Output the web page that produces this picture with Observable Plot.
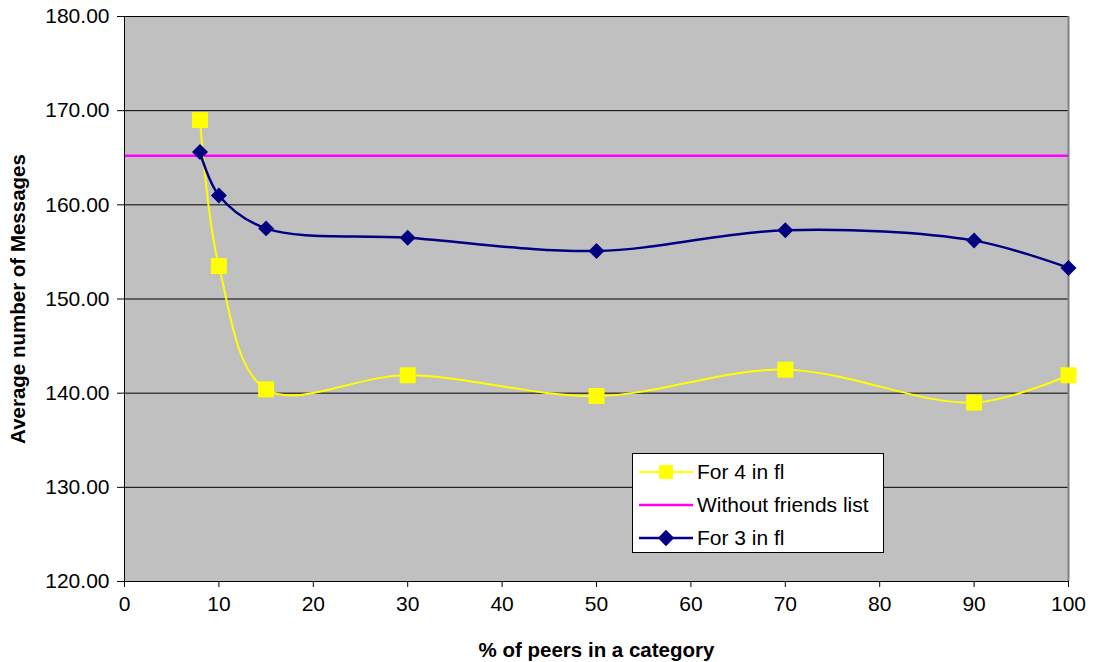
<!DOCTYPE html>
<html>
<head>
<meta charset="utf-8">
<script src="https://cdn.jsdelivr.net/npm/d3@7"></script>
<script src="https://cdn.jsdelivr.net/npm/@observablehq/plot@0.6"></script>
<style>
  body { margin: 0; background: #fff; font-family: "Liberation Sans", Arial, sans-serif; }
  #wrap { position: relative; width: 1094px; height: 662px; }
  #legend { position: absolute; left: 632px; top: 453px; width: 252px; height: 100px;
            box-sizing: border-box; border: 1px solid #000; background: #fff; }
  #legend svg { display: block; }
</style>
</head>
<body>
<div id="wrap"><div id="legend"></div></div>
<script>
// % of peers in a category
const peers = [8, 10, 15, 30, 50, 70, 90, 100];
// Average number of messages, 4 peers in friends list
const for4 = [169.0, 153.5, 140.4, 141.9, 139.7, 142.5, 139.0, 141.9];
// Average number of messages, 3 peers in friends list
const for3 = [165.6, 161.0, 157.5, 156.5, 155.1, 157.3, 156.2, 153.3];
// Reference level without a friends list
const withoutList = 165.2;
const xTicks = [0, 10, 20, 30, 40, 50, 60, 70, 80, 90, 100];
const yTicks = [120, 130, 140, 150, 160, 170, 180];

const seriesNames = ["For 4 in fl", "Without friends list", "For 3 in fl"];
const colors = { yellow: "#FFFF00", magenta: "#FF00FF", navy: "#000080" };

const rows4 = peers.map((p, i) => ({ x: p, y: for4[i] }));
const rows3 = peers.map((p, i) => ({ x: p, y: for3[i] }));

const font = '"Liberation Sans", Arial, sans-serif';

const chart = Plot.plot({
  width: 1094,
  height: 662,
  marginLeft: 124,
  marginRight: 26,
  marginTop: 16,
  marginBottom: 81,
  style: { fontFamily: font, background: "transparent", color: "#000" },
  x: { domain: [0, 100] },
  y: { domain: [120, 180] },
  marks: [
    Plot.frame({ fill: "#C0C0C0", stroke: "#808080", strokeWidth: 1 }),
    Plot.ruleY(yTicks.slice(1), { stroke: "#000", strokeWidth: 1 }),
    Plot.ruleX([100], { stroke: "#808080", strokeWidth: 2 }),
    Plot.ruleY([withoutList], { stroke: colors.magenta, strokeWidth: 2.5 }),
    Plot.line(rows4, { x: "x", y: "y", stroke: colors.yellow, strokeWidth: 2, curve: "catmull-rom" }),
    Plot.line(rows3, { x: "x", y: "y", stroke: colors.navy, strokeWidth: 2.5, curve: "catmull-rom" }),
    Plot.dot(rows4, { x: "x", y: "y", symbol: "square", r: 9, fill: colors.yellow, stroke: "none" }),
    Plot.dot(rows3, { x: "x", y: "y", symbol: "diamond2", r: 7.2, fill: colors.navy, stroke: "none" }),
    Plot.ruleX([0], { stroke: "#000", strokeWidth: 1 }),
    Plot.ruleY([120], { stroke: "#000", strokeWidth: 1 }),
    Plot.axisY({ ticks: yTicks, tickFormat: d => d.toFixed(2), tickSize: 7, tickPadding: 8,
                 fontSize: 21, label: null, stroke: "#000" }),
    Plot.axisX({ ticks: xTicks, tickSize: 6, tickPadding: 9, fontSize: 21, label: null }),
    Plot.text(["Average number of Messages"], { frameAnchor: "left", rotate: -90, dx: -106,
                 textAnchor: "middle", lineAnchor: "middle",
                 fontSize: 20.5, fontWeight: "bold", fill: "#000" }),
    Plot.text(["% of peers in a category"], { frameAnchor: "bottom", dy: 69,
                 textAnchor: "middle", lineAnchor: "middle",
                 fontSize: 20.5, fontWeight: "bold", fill: "#000" })
  ]
});
document.getElementById("wrap").prepend(chart);

// Legend box
const lg = d3.select("#legend").append("svg").attr("width", 250).attr("height", 98);
const entries = [
  { name: seriesNames[0], color: colors.yellow, sym: d3.symbolSquare, size: 190, w: 2 },
  { name: seriesNames[1], color: colors.magenta, sym: null, w: 2.5 },
  { name: seriesNames[2], color: colors.navy, sym: d3.symbolDiamond2, size: 170, w: 2.5 }
];
entries.forEach((e, i) => {
  const cy = 18 + i * 33;
  const g = lg.append("g").attr("transform", `translate(0,${cy})`);
  g.append("line").attr("x1", 6).attr("x2", 60).attr("stroke", e.color).attr("stroke-width", e.w);
  if (e.sym) g.append("path").attr("d", d3.symbol(e.sym, e.size)()).attr("transform", "translate(33,0)").attr("fill", e.color);
  g.append("text").attr("x", 64).attr("dy", "0.35em").attr("font-size", 21)
    .attr("font-family", font).text(e.name);
});
</script>
</body>
</html>
